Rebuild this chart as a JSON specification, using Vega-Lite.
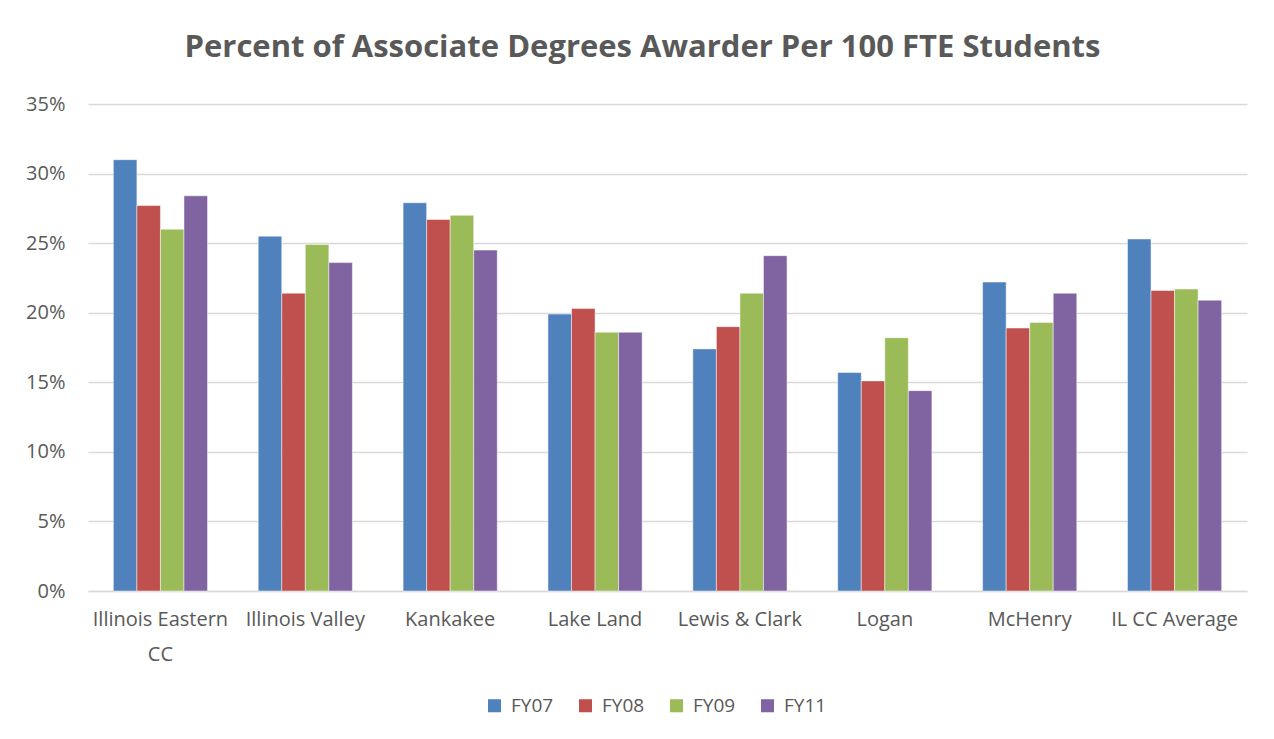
{
  "$schema": "https://vega.github.io/schema/vega-lite/v6.json",
  "autosize": "none",
  "width": 1159,
  "height": 487,
  "padding": {"left": 88, "top": 104, "right": 27, "bottom": 148},
  "background": "white",
  "title": {
    "text": "Percent of Associate Degrees Awarder Per 100 FTE Students",
    "font": "Open Sans",
    "fontSize": 31,
    "fontWeight": "bold",
    "color": "#595959",
    "anchor": "middle",
    "frame": "group",
    "dx": -25,
    "offset": 30
  },
  "data": {
    "values": [
      {"college": "Illinois Eastern CC", "year": "FY07", "value": 0.310},
      {"college": "Illinois Eastern CC", "year": "FY08", "value": 0.277},
      {"college": "Illinois Eastern CC", "year": "FY09", "value": 0.260},
      {"college": "Illinois Eastern CC", "year": "FY11", "value": 0.284},
      {"college": "Illinois Valley", "year": "FY07", "value": 0.255},
      {"college": "Illinois Valley", "year": "FY08", "value": 0.214},
      {"college": "Illinois Valley", "year": "FY09", "value": 0.249},
      {"college": "Illinois Valley", "year": "FY11", "value": 0.236},
      {"college": "Kankakee", "year": "FY07", "value": 0.279},
      {"college": "Kankakee", "year": "FY08", "value": 0.267},
      {"college": "Kankakee", "year": "FY09", "value": 0.270},
      {"college": "Kankakee", "year": "FY11", "value": 0.245},
      {"college": "Lake Land", "year": "FY07", "value": 0.199},
      {"college": "Lake Land", "year": "FY08", "value": 0.203},
      {"college": "Lake Land", "year": "FY09", "value": 0.186},
      {"college": "Lake Land", "year": "FY11", "value": 0.186},
      {"college": "Lewis & Clark", "year": "FY07", "value": 0.174},
      {"college": "Lewis & Clark", "year": "FY08", "value": 0.190},
      {"college": "Lewis & Clark", "year": "FY09", "value": 0.214},
      {"college": "Lewis & Clark", "year": "FY11", "value": 0.241},
      {"college": "Logan", "year": "FY07", "value": 0.157},
      {"college": "Logan", "year": "FY08", "value": 0.151},
      {"college": "Logan", "year": "FY09", "value": 0.182},
      {"college": "Logan", "year": "FY11", "value": 0.144},
      {"college": "McHenry", "year": "FY07", "value": 0.222},
      {"college": "McHenry", "year": "FY08", "value": 0.189},
      {"college": "McHenry", "year": "FY09", "value": 0.193},
      {"college": "McHenry", "year": "FY11", "value": 0.214},
      {"college": "IL CC Average", "year": "FY07", "value": 0.253},
      {"college": "IL CC Average", "year": "FY08", "value": 0.216},
      {"college": "IL CC Average", "year": "FY09", "value": 0.217},
      {"college": "IL CC Average", "year": "FY11", "value": 0.209}
    ]
  },
  "mark": {"type": "bar", "stroke": "white", "strokeWidth": 0.8, "strokeOpacity": 0.6},
  "encoding": {
    "x": {
      "field": "college",
      "type": "nominal",
      "sort": null,
      "scale": {"paddingInner": 0.35, "paddingOuter": 0.175},
      "axis": {
        "title": null,
        "labelAngle": 0,
        "labelFont": "Open Sans",
        "labelFontSize": 20,
        "labelColor": "#595959",
        "labelPadding": 18,
        "labelLineHeight": 35,
        "labelExpr": "datum.value == 'Illinois Eastern CC' ? ['Illinois Eastern', 'CC'] : datum.value",
        "ticks": false,
        "domainColor": "#d9d9d9",
        "domainWidth": 1.5,
        "grid": false
      }
    },
    "xOffset": {"field": "year", "type": "nominal", "sort": ["FY07", "FY08", "FY09", "FY11"]},
    "y": {
      "field": "value",
      "type": "quantitative",
      "scale": {"domain": [0, 0.35], "nice": false},
      "axis": {
        "title": null,
        "format": ".0%",
        "values": [0, 0.05, 0.1, 0.15, 0.2, 0.25, 0.3, 0.35],
        "labelFont": "Open Sans",
        "labelFontSize": 20,
        "labelColor": "#595959",
        "labelPadding": 23,
        "ticks": false,
        "domain": false,
        "gridColor": "#d9d9d9",
        "gridWidth": 1.3
      }
    },
    "color": {
      "field": "year",
      "type": "nominal",
      "sort": ["FY07", "FY08", "FY09", "FY11"],
      "scale": {"domain": ["FY07", "FY08", "FY09", "FY11"], "range": ["#4f81bd", "#c0504d", "#9bbb59", "#8064a2"]},
      "legend": {
        "title": null,
        "orient": "none",
        "direction": "horizontal",
        "legendX": 397,
        "legendY": 592,
        "symbolType": "square",
        "symbolSize": 170,
        "symbolStrokeWidth": 0,
        "labelFont": "Open Sans",
        "labelFontSize": 19,
        "labelColor": "#595959",
        "labelOffset": 7,
        "columnPadding": 22
      }
    }
  },
  "config": {"view": {"stroke": null}}
}
